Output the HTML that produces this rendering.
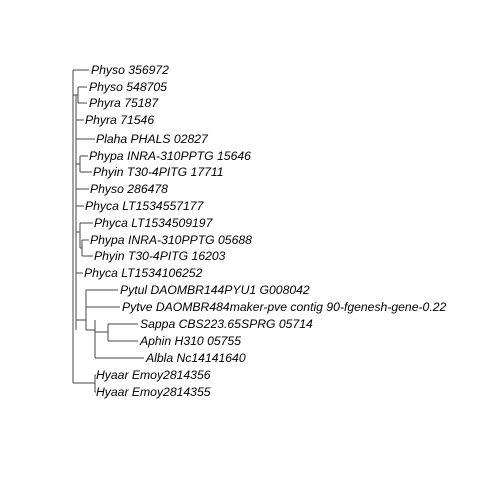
<!DOCTYPE html><html><head><style>body{margin:0;background:#fff}</style></head><body>
<svg width="480" height="480" xmlns="http://www.w3.org/2000/svg" style="display:block">
<g stroke="#444" stroke-width="1" fill="none">
<path d="M73 70V383M73 70H89M73 383H95M95 375V392M95 375H96M95 392H96"/>
<path d="M73 95H76M76 95V330"/>
<path d="M76 95H78M78 87V103M78 87H87M78 103H87M76 120H84M76 139H95M76 164H80M80 156V172M80 156H88M80 172H92"/>
<path d="M76 189H89M76 206H84M76 232H80M80 223V248M80 223H93M80 248H82M82 240V256M82 240H89M82 256H93M76 273H83"/>
<path d="M76 320H86M86 290V330M86 290H118M86 307H120M86 330H95M95 320V358M95 332H108M108 324V341M108 324H138M108 341H138M95 358H144"/>
</g>
<g font-family="Liberation Sans, sans-serif" font-style="italic" font-size="12.2" fill="#000">
<text x="91" y="74">Physo 356972</text>
<text x="89" y="91">Physo 548705</text>
<text x="89" y="107">Phyra 75187</text>
<text x="85" y="124">Phyra 71546</text>
<text x="96" y="143">Plaha PHALS 02827</text>
<text x="89" y="160">Phypa INRA-310PPTG 15646</text>
<text x="93" y="176">Phyin T30-4PITG 17711</text>
<text x="90" y="193">Physo 286478</text>
<text x="85" y="210">Phyca LT1534557177</text>
<text x="94" y="227">Phyca LT1534509197</text>
<text x="90" y="244">Phypa INRA-310PPTG 05688</text>
<text x="94" y="260">Phyin T30-4PITG 16203</text>
<text x="84" y="277">Phyca LT1534106252</text>
<text x="120" y="294">Pytul DAOMBR144PYU1 G008042</text>
<text x="122" y="311">Pytve DAOMBR484maker-pve contig 90-fgenesh-gene-0.22</text>
<text x="140" y="328">Sappa CBS223.65SPRG 05714</text>
<text x="140" y="345">Aphin H310 05755</text>
<text x="146" y="362">Albla Nc14141640</text>
<text x="96" y="379">Hyaar Emoy2814356</text>
<text x="96" y="396">Hyaar Emoy2814355</text>
</g>
</svg>
</body></html>
